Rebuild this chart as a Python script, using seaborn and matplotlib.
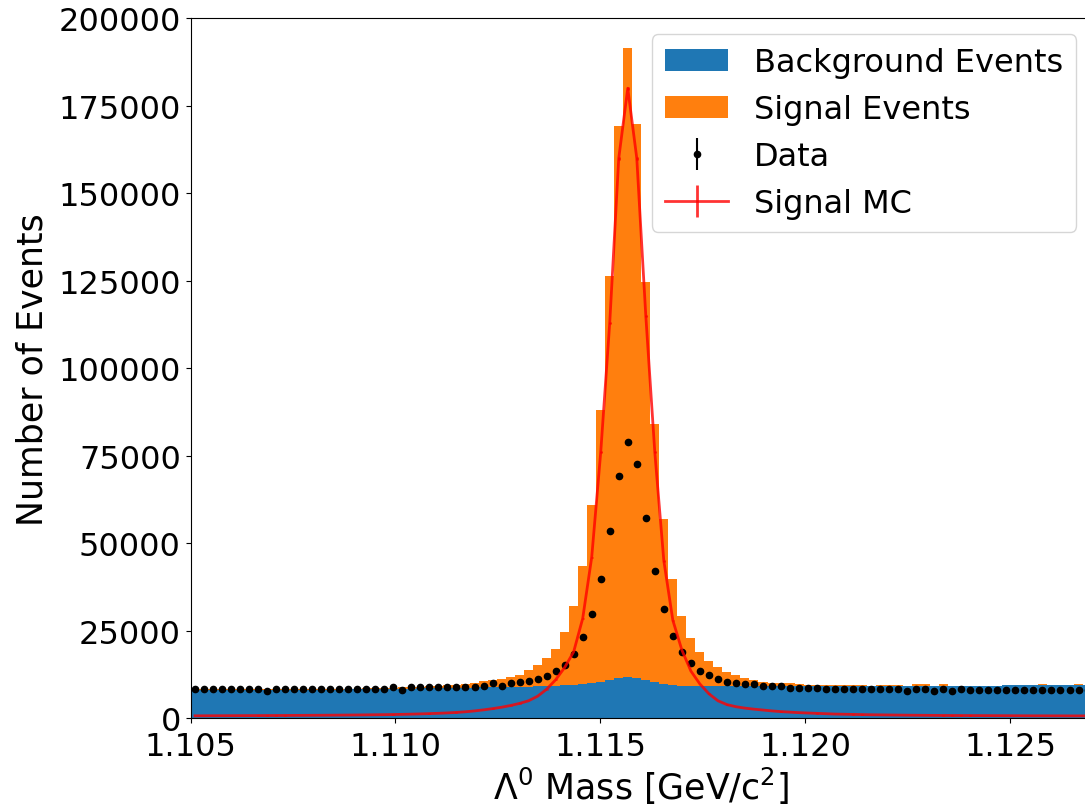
import numpy as np
import pandas as pd
import matplotlib
matplotlib.use("Agg")
import matplotlib.pyplot as plt
import seaborn as sns
from matplotlib.ticker import MultipleLocator, FormatStrFormatter

# Binning of the invariant-mass histogram
mass_lo, mass_hi, n_bins = 1.105, 1.127, 100

# Fitted background yield per bin
background = [
    8000, 8010, 8020, 8030, 8040, 8050, 8060, 8080, 8090, 8100,
    8110, 8120, 8140, 8150, 8170, 8180, 8200, 8230, 8260, 8290,
    8320, 8360, 8400, 8440, 8480, 8520, 8560, 8600, 8640, 8680,
    8720, 8760, 8800, 8850, 8900, 8950, 9000, 9050, 9100, 9150,
    9250, 9400, 9600, 9850, 10150, 10500, 10900, 11400, 11700, 11500,
    10900, 10300, 9800, 9500, 9350, 9250, 9200, 9200, 9210, 9210,
    9220, 9220, 9230, 9230, 9240, 9240, 9250, 9250, 9260, 9260,
    9270, 9270, 9280, 9280, 9290, 9290, 9300, 9300, 9310, 9310,
    9320, 9320, 9330, 9330, 9340, 9340, 9350, 9350, 9360, 9360,
    9370, 9370, 9380, 9380, 9390, 9390, 9400, 9400, 9400, 9400,
]

# Fitted signal yield per bin (stacked on the background)
signal = [
    300, 290, 280, 270, 260, 250, 250, 230, 220, 220,
    240, 230, 210, 250, 230, 220, 250, 270, 240, 260,
    280, 290, 300, 360, 420, 480, 540, 600, 760, 920,
    1080, 1340, 1900, 2050, 2300, 2750, 3300, 4750, 6100, 8150,
    10650, 15300, 22400, 33650, 50850, 77500, 115600, 157800, 179700, 158200,
    113700, 73700, 47000, 30200, 19750, 13750, 9800, 7100, 5490, 4090,
    3080, 2380, 1670, 1170, 960, 860, 750, 550, 340, 240,
    180, 130, 300, 320, 300, 0, 300, 320, 300, 0,
    420, 400, 0, 400, 0, 0, 0, 0, 0, 0,
    0, 0, 0, 0, 420, 0, 0, 0, 400, 0,
]

# Observed events per bin
data = [
    8300, 8300, 8300, 8300, 8300, 8300, 8300, 8300, 7650, 8300,
    8300, 8300, 8300, 8300, 8300, 8300, 8300, 8300, 8300, 8300,
    8300, 8300, 8950, 8100, 8800, 8800, 8800, 8800, 8800, 8800,
    8800, 8850, 9300, 10000, 9300, 10000, 10300, 10700, 11200, 12200,
    13500, 15200, 18500, 23100, 29900, 39700, 53500, 69100, 78800, 72700,
    57200, 42000, 31100, 23600, 19000, 15700, 13500, 12500, 11200, 10300,
    10100, 9700, 9700, 9200, 9200, 9200, 8700, 8700, 8700, 8700,
    8300, 8300, 8300, 8300, 8300, 8300, 8300, 8300, 8300, 7650,
    8300, 8300, 7650, 8350, 7650, 8400, 8100, 8100, 8100, 8100,
    8100, 8100, 8100, 8100, 8100, 8100, 8100, 8100, 8100, 8100,
]

# Simulated signal shape per bin
signal_mc = [
    700, 710, 720, 730, 740, 750, 760, 770, 780, 790,
    800, 820, 830, 850, 860, 880, 900, 920, 940, 970,
    1000, 1030, 1070, 1120, 1180, 1250, 1330, 1420, 1530, 1670,
    1850, 2100, 2400, 2750, 3150, 3650, 4250, 5000, 6300, 8300,
    11000, 14500, 19000, 28500, 46000, 76000, 113000, 160000, 180000, 160000,
    115000, 76000, 45000, 28000, 19500, 13500, 9800, 7000, 5000, 3900,
    3300, 2900, 2600, 2350, 2100, 1900, 1750, 1600, 1500, 1400,
    1300, 1200, 1150, 1100, 1050, 1000, 970, 940, 910, 880,
    860, 840, 820, 800, 790, 780, 770, 760, 750, 740,
    730, 720, 710, 700, 700, 690, 690, 680, 680, 670,
]

edges = np.linspace(mass_lo, mass_hi, n_bins + 1)
centers = 0.5 * (edges[:-1] + edges[1:])

df = pd.DataFrame({
    "mass": centers,
    "background": background,
    "signal": signal,
    "data": data,
    "mc": signal_mc,
})
df["total"] = df["background"] + df["signal"]

TICK_FS = 23
LABEL_FS = 25

fig = plt.figure(figsize=(10.85, 8.12), dpi=100)
ax = fig.add_axes([0.1756, 0.1142, 0.8309, 0.8621])

# Stacked histogram: full stack in orange, background drawn over it in blue
hist_kws = dict(bins=n_bins, binrange=(mass_lo, mass_hi), element="step",
                fill=True, alpha=1, linewidth=0, ax=ax)
sns.histplot(data=df, x="mass", weights="total", color="#ff7f0e",
             label="Signal Events", **hist_kws)
sns.histplot(data=df, x="mass", weights="background", color="#1f77b4",
             label="Background Events", **hist_kws)

ax.errorbar(df["mass"], df["data"], yerr=np.sqrt(df["data"]), fmt="o",
            color="black", ms=4.5, label="Data")
ax.errorbar(df["mass"], df["mc"], yerr=np.sqrt(df["mc"]), fmt="-",
            color="red", alpha=0.8, lw=2.0, label="Signal MC")

ax.set_xlim(mass_lo, mass_hi)
ax.set_ylim(0, 200000)
ax.xaxis.set_major_locator(MultipleLocator(0.005))
ax.xaxis.set_major_formatter(FormatStrFormatter("%.3f"))
ax.yaxis.set_major_locator(MultipleLocator(25000))
ax.tick_params(labelsize=TICK_FS)
ax.tick_params(axis="x", pad=5.5)

ax.set_xlabel(r"$\Lambda^0$ Mass [GeV/c$^2$]", fontsize=LABEL_FS, labelpad=2)
ax.set_ylabel("Number of Events", fontsize=LABEL_FS, labelpad=6)

handles, labels = ax.get_legend_handles_labels()
lookup = {}
for h, l in zip(handles, labels):
    lookup.setdefault(l, h)
order = ["Background Events", "Signal Events", "Data", "Signal MC"]
ax.legend([lookup[k] for k in order], order, loc="upper right",
          fontsize=TICK_FS)

fig.savefig("out.png", dpi=100)
